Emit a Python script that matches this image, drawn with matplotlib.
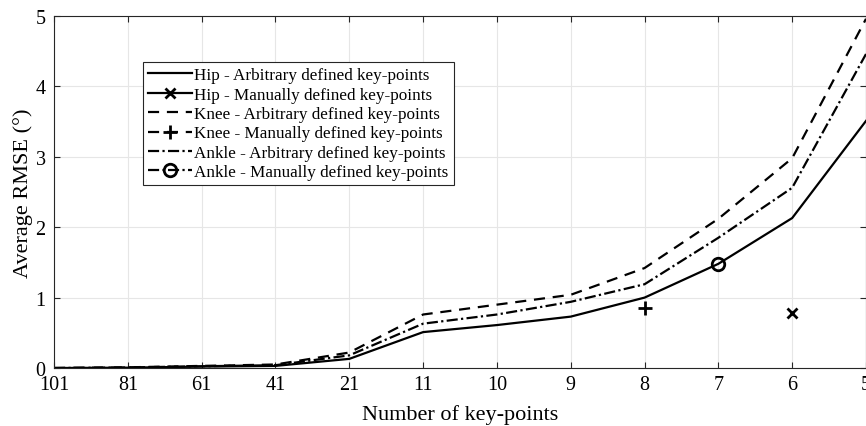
import numpy as np
import matplotlib
matplotlib.use("Agg")
import matplotlib.pyplot as plt

# key-point counts (categorical x axis)
keypoints = ["101", "81", "61", "41", "21", "11", "10", "9", "8", "7", "6", "5"]

# average RMSE (deg) for arbitrary defined key-points
hip = [0.0, 0.005, 0.02, 0.03, 0.13, 0.51, 0.61, 0.73, 1.00, 1.48, 2.13, 3.51]
knee = [0.0, 0.01, 0.03, 0.05, 0.22, 0.76, 0.90, 1.04, 1.42, 2.12, 2.98, 4.96]
ankle = [0.0, 0.008, 0.025, 0.04, 0.18, 0.63, 0.76, 0.94, 1.19, 1.85, 2.56, 4.46]

# manually defined key-points (single values)
hipManual = ("6", 0.78)
kneeManual = ("8", 0.85)
ankleManual = ("7", 1.48)

plt.rcParams['font.family'] = ['Liberation Serif', 'DejaVu Serif']
plt.rcParams['mathtext.fontset'] = 'stix'

fig = plt.figure(figsize=(8.66, 4.27), dpi=100)
ax = fig.add_axes([0.0624, 0.1358, 0.9376, 0.8244])

xs = np.arange(len(keypoints))
pos = {k: i for i, k in enumerate(keypoints)}
lw = 1.6

ax.plot(xs, hip, c='k', ls='-', lw=lw, label='Hip - Arbitrary defined key-points')
ax.plot([pos[hipManual[0]]], [hipManual[1]], c='k', ls='-', lw=lw, marker='x', ms=7, mew=2,
        label='Hip - Manually defined key-points')
ax.plot(xs, knee, c='k', ls=(0, (5, 3.5)), lw=lw, label='Knee - Arbitrary defined key-points')
ax.plot([pos[kneeManual[0]]], [kneeManual[1]], c='k', ls=(0, (5, 3.5)), lw=lw, marker='+', ms=10, mew=2,
        label='Knee - Manually defined key-points')
ax.plot(xs, ankle, c='k', ls=(0, (5, 1.5, 1, 1.5)), lw=lw, label='Ankle - Arbitrary defined key-points')
ax.plot([pos[ankleManual[0]]], [ankleManual[1]], c='k', ls=(0, (5, 1.5, 1, 1.5)), lw=lw, marker='o',
        ms=9, mfc='none', mew=2, label='Ankle - Manually defined key-points')

ax.set_xlim(0, len(keypoints) - 1)
ax.set_ylim(0, 5)
ax.set_xticks(xs)
ax.set_xticklabels(keypoints)
ax.set_yticks(range(6))
ax.grid(True, color='#e6e6e6', lw=0.8)
ax.set_axisbelow(True)
ax.tick_params(direction='in', top=True, right=True, labelsize=14.5, length=4, color='#262626')
ax.tick_params(axis='y', pad=6)
ax.tick_params(axis='x', pad=5)
for s in ax.spines.values():
    s.set_color('#262626')
    s.set_linewidth(0.8)

ax.set_xlabel('Number of key-points', fontsize=16, labelpad=7)
ax.set_ylabel('Average RMSE (°)', fontsize=16, labelpad=2)

leg = ax.legend(loc='upper left', bbox_to_anchor=(0.1096, 0.869), borderaxespad=0,
                fontsize=12.3, handlelength=2.55, handletextpad=0.15, labelspacing=0.2,
                borderpad=0.3, fancybox=False, framealpha=1, edgecolor='#262626')
leg.get_frame().set_linewidth(0.8)

fig.savefig('out.png', dpi=100)
